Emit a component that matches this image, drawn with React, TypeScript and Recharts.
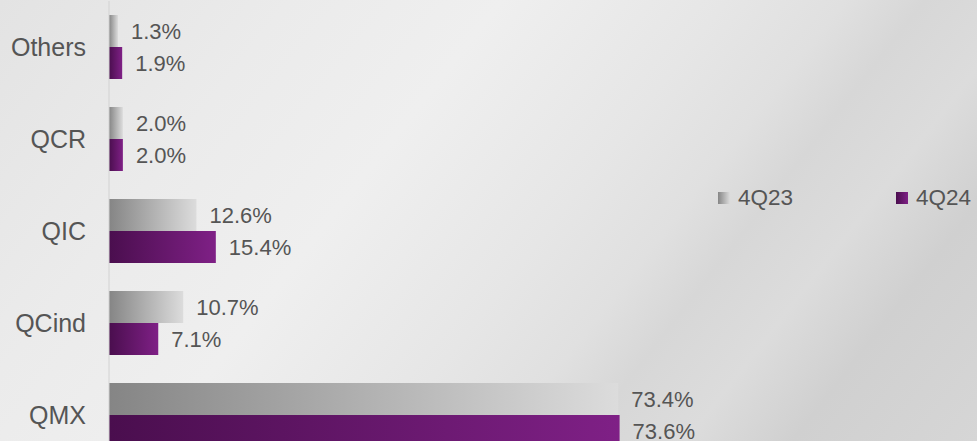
import React from "react";
import { BarChart, Bar, XAxis, YAxis, LabelList } from "recharts";

const categories = ["Others", "QCR", "QIC", "QCind", "QMX"];
const share4Q23 = [1.3, 2.0, 12.6, 10.7, 73.4];
const share4Q24 = [1.9, 2.0, 15.4, 7.1, 73.6];
const seriesNames = ["4Q23", "4Q24"];

const data = categories.map((name, i) => ({
  name,
  q23: share4Q23[i],
  q24: share4Q24[i],
}));

const FONT = "'Liberation Sans', Arial, sans-serif";
const TEXT = "#555555";
const GRAY_BG = "linear-gradient(90deg, #858585, #dcdcdc)";
const PURPLE_BG = "linear-gradient(90deg, #4a0e4e, #7f2086)";

const fmt = (v: any) => `${Number(v).toFixed(1)}%`;

const swatch = (bg: string): React.CSSProperties => ({
  display: "inline-block",
  flexShrink: 0,
  width: 12,
  height: 12,
  marginRight: 8,
  background: bg,
});

// legend sits to the right of the plot, roughly centred vertically
const LegendBox = () => (
  <div
    style={{
      position: "absolute",
      left: 718,
      top: 187,
      display: "flex",
      fontFamily: FONT,
      fontSize: 22.5,
      color: TEXT,
      lineHeight: "22px",
    }}
  >
    <div style={{ display: "flex", alignItems: "center", width: 178 }}>
      <span style={swatch(GRAY_BG)} />
      {seriesNames[0]}
    </div>
    <div style={{ display: "flex", alignItems: "center" }}>
      <span style={swatch(PURPLE_BG)} />
      {seriesNames[1]}
    </div>
  </div>
);

export default function App() {
  return (
    <div
      style={{
        position: "absolute",
        top: 0,
        left: 0,
        width: 977,
        height: 441,
        overflow: "hidden",
        background:
          "linear-gradient(128deg, #e3e3e3 0%, #ebebeb 22%, #efefef 38%, #e6e6e6 55%, #e0e0e0 64%, #d7d7d7 70%, #dcdcdc 78%, #d0d0d0 86%, #d6d6d6 100%)",
      }}
    >
      <BarChart
        width={977}
        height={470}
        data={data}
        layout="vertical"
        margin={{ top: 1, right: 313, bottom: 9, left: 0 }}
        barCategoryGap={14}
        barGap={0}
      >
        <defs>
          <linearGradient id="gGray" x1="0" y1="0" x2="1" y2="0">
            <stop offset="0%" stopColor="#858585" />
            <stop offset="100%" stopColor="#dcdcdc" />
          </linearGradient>
          <linearGradient id="gPurple" x1="0" y1="0" x2="1" y2="0">
            <stop offset="0%" stopColor="#4a0e4e" />
            <stop offset="100%" stopColor="#7f2086" />
          </linearGradient>
        </defs>
        <XAxis type="number" domain={[0, 80]} hide />
        <YAxis
          type="category"
          dataKey="name"
          width={109}
          tickLine={false}
          tickSize={0}
          tickMargin={23}
          axisLine={{ stroke: "#d2d2d2", strokeWidth: 1 }}
          tick={{ fill: TEXT, fontSize: 25, fontFamily: FONT }}
        />
        <Bar dataKey="q23" name={seriesNames[0]} fill="url(#gGray)" isAnimationActive={false}>
          <LabelList
            dataKey="q23"
            position="right"
            offset={13}
            formatter={fmt}
            style={{ fill: TEXT, fontSize: 22, fontFamily: FONT }}
          />
        </Bar>
        <Bar dataKey="q24" name={seriesNames[1]} fill="url(#gPurple)" isAnimationActive={false}>
          <LabelList
            dataKey="q24"
            position="right"
            offset={13}
            formatter={fmt}
            style={{ fill: TEXT, fontSize: 22, fontFamily: FONT }}
          />
        </Bar>
      </BarChart>
      <LegendBox />
    </div>
  );
}
